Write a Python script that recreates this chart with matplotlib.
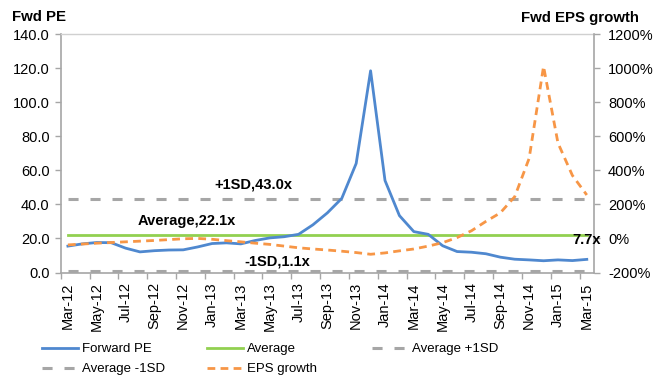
import matplotlib
matplotlib.use("Agg")
import matplotlib.pyplot as plt
from matplotlib.lines import Line2D
from matplotlib.ticker import FuncFormatter, FixedLocator
import numpy as np

plt.rcParams['font.family'] = ['Liberation Sans', 'DejaVu Sans']

# Monthly categories
months = ["Mar-12", "Apr-12", "May-12", "Jun-12", "Jul-12", "Aug-12", "Sep-12",
          "Oct-12", "Nov-12", "Dec-12", "Jan-13", "Feb-13", "Mar-13", "Apr-13",
          "May-13", "Jun-13", "Jul-13", "Aug-13", "Sep-13", "Oct-13", "Nov-13",
          "Dec-13", "Jan-14", "Feb-14", "Mar-14", "Apr-14", "May-14", "Jun-14",
          "Jul-14", "Aug-14", "Sep-14", "Oct-14", "Nov-14", "Dec-14", "Jan-15",
          "Feb-15", "Mar-15"]

# Forward PE (x)
forward_pe = [15.5, 16.8, 17.6, 17.5, 14.3, 12.1, 12.8, 13.2, 13.3, 15.0,
              17.0, 17.4, 16.8, 18.8, 20.3, 21.0, 22.4, 28.0, 35.0, 43.5,
              64.0, 118.4, 54.0, 33.4, 24.0, 22.4, 15.7, 12.3, 11.9, 11.0,
              9.0, 7.8, 7.4, 6.9, 7.4, 7.0, 7.7]

# Forward EPS growth (%)
eps_growth = [-38, -33, -28, -24, -20, -16, -12, -7, -2, 0,
              -5, -13, -20, -28, -35, -45, -55, -62, -68, -75,
              -83, -93, -85, -73, -62, -45, -25, 5, 45, 100,
              150, 245, 470, 1010, 560, 370, 255]

pe_average = 22.1
pe_plus_1sd = 43.0
pe_minus_1sd = 1.1

BLUE = "#4F88CF"
GREEN = "#92D050"
GREY = "#A6A6A6"
ORANGE = "#F79646"
SPINE = "#A6A6A6"

W, H = 654, 379
fig = plt.figure(figsize=(W / 100, H / 100), dpi=100)
left, right, top, bottom = 60.7, 594.0, 34.0, 272.5
ax = fig.add_axes([left / W, 1 - bottom / H, (right - left) / W, (bottom - top) / H])

n = len(months)
x = np.arange(n)

# Reference bands
ax.plot(x, [pe_plus_1sd] * n, color=GREY, lw=2.2, dashes=(3.3, 3.9), zorder=2)
ax.plot(x, [pe_minus_1sd] * n, color=GREY, lw=2.2, dashes=(3.3, 3.9), zorder=2,
        clip_on=False)
ax.plot(x, [pe_average] * n, color=GREEN, lw=2.0, zorder=3)
ax.plot(x, forward_pe, color=BLUE, lw=2.0, zorder=4)

ax.set_xlim(-0.5, n - 0.5)
ax.set_ylim(0, 140)
ax.set_yticks(np.arange(0, 141, 20))
ax.yaxis.set_major_formatter(FuncFormatter(lambda v, p: f"{v:.1f}"))

ax.set_xticks(x[::2])
ax.set_xticklabels(months[::2], rotation=90)
ax.xaxis.set_minor_locator(FixedLocator(np.arange(-0.5, n - 0.5, 2)))
ax.tick_params(axis='x', which='major', length=0, pad=7, labelsize=10.5)
ax.tick_params(axis='x', which='minor', length=4, color=SPINE, width=1)
ax.tick_params(axis='y', length=4, color=SPINE, width=1, pad=4, labelsize=10.5)

for side in ['left', 'bottom']:
    ax.spines[side].set_color(SPINE)
    ax.spines[side].set_linewidth(1.2)
ax.spines['top'].set_color("#D0D0D0")
ax.spines['top'].set_linewidth(1.0)
ax.spines['right'].set_visible(False)

# Secondary axis: EPS growth
ax2 = ax.twinx()
ax2.plot(x, eps_growth, color=ORANGE, lw=2.0, dashes=(2.8, 1.9), zorder=5)
ax2.set_ylim(-200, 1200)
ax2.set_yticks(np.arange(-200, 1201, 200))
ax2.yaxis.set_major_formatter(FuncFormatter(lambda v, p: f"{v:.0f}%"))
ax2.tick_params(axis='y', length=4, color=SPINE, width=1, pad=6, labelsize=10.5)
for side in ['left', 'top', 'bottom']:
    ax2.spines[side].set_visible(False)
ax2.spines['right'].set_color(SPINE)
ax2.spines['right'].set_linewidth(1.2)

# Band labels
bold = dict(fontsize=10.5, fontweight='bold', ha='center', va='center', zorder=6)
ax.text(12.9, 51.9, f"+1SD,{pe_plus_1sd:.1f}x", **bold)
ax.text(8.27, 30.2, f"Average,{pe_average:.1f}x", **bold)
ax.text(14.55, 6.75, f"-1SD,{pe_minus_1sd:.1f}x", **bold)

# Latest value label, drawn above the secondary spine
ax2.annotate(f"{forward_pe[-1]:.1f}x", xy=(x[-1], forward_pe[-1]),
             xycoords=ax.transData, xytext=(0, 14), textcoords='offset points',
             annotation_clip=False, fontsize=10.5, fontweight='bold',
             ha='center', va='center', zorder=7)

# Axis titles
fig.text(12.5 / W, 1 - 17 / H, "Fwd PE", fontsize=10.8, fontweight='bold',
         ha='left', va='center')
fig.text(639 / W, 1 - 18 / H, "Fwd EPS growth", fontsize=10.8, fontweight='bold',
         ha='right', va='center')

# Legend, laid out in three columns
h_fpe = Line2D([], [], color=BLUE, lw=2.0)
h_avg = Line2D([], [], color=GREEN, lw=2.0)
h_p1 = Line2D([], [], color=GREY, lw=2.2, dashes=(3.3, 3.9))
h_m1 = Line2D([], [], color=GREY, lw=2.2, dashes=(3.3, 3.9))
h_eps = Line2D([], [], color=ORANGE, lw=2.0, dashes=(2.8, 1.9))

columns = [
    (42, [h_fpe, h_m1], ["Forward PE", "Average -1SD"]),
    (207, [h_avg, h_eps], ["Average", "EPS growth"]),
    (372, [h_p1], ["Average +1SD"]),
]
for xpos, handles, labels in columns:
    fig.legend(handles, labels, loc='upper left',
               bbox_to_anchor=(xpos / W, 1 - 343 / H), frameon=False,
               fontsize=9.5, handlelength=2.7, handletextpad=0.3,
               borderpad=0, borderaxespad=0, labelspacing=0.6)

fig.savefig("out.png", dpi=100)
